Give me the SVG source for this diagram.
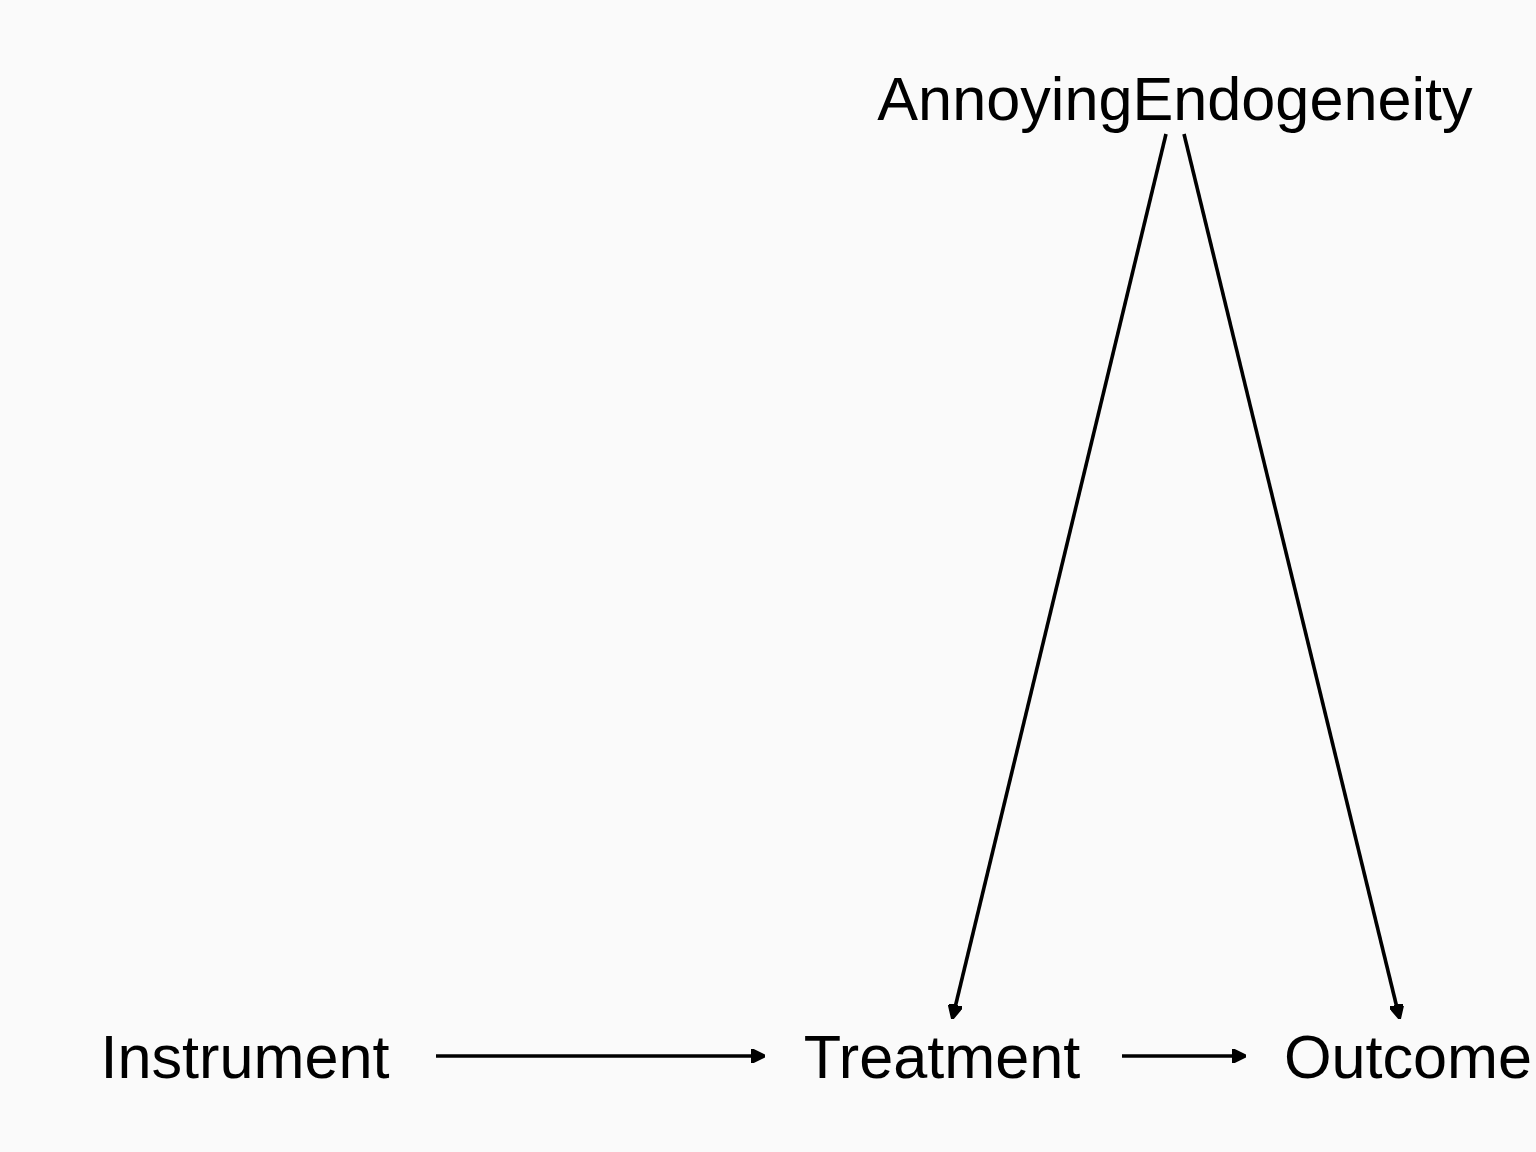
<svg xmlns="http://www.w3.org/2000/svg" width="1536" height="1152" viewBox="0 0 1536 1152">
<defs>
<style>
.lbl{font-family:"Liberation Sans",Arial,sans-serif;font-size:61.2px;fill:#000;text-anchor:middle}
.edge{stroke:#000;stroke-width:3.6;fill:none}
</style>
<marker id="ah" viewBox="0 0 10 10" refX="8" refY="5" markerWidth="4" markerHeight="3.8" orient="auto" markerUnits="strokeWidth">
<path d="M0,0 L10,5 L0,10 z" fill="#000" stroke="#000" stroke-width="2" stroke-linejoin="round"/>
</marker>
</defs>
<rect width="1536" height="1152" fill="#fafafa"/>
<g id="connectors">
<line class="edge" x1="436" y1="1056" x2="762" y2="1056" marker-end="url(#ah)"/>
<line class="edge" x1="1122" y1="1056" x2="1243" y2="1056" marker-end="url(#ah)"/>
<line class="edge" x1="1166" y1="134" x2="953" y2="1016" marker-end="url(#ah)"/>
<line class="edge" x1="1184" y1="134" x2="1399" y2="1016" marker-end="url(#ah)"/>
</g>
<g id="node-annoying"><text class="lbl" x="1175" y="120">AnnoyingEndogeneity</text></g>
<g id="node-instrument"><text class="lbl" x="245" y="1078">Instrument</text></g>
<g id="node-treatment"><text class="lbl" x="942" y="1078">Treatment</text></g>
<g id="node-outcome"><text class="lbl" x="1408" y="1078">Outcome</text></g>
</svg>
